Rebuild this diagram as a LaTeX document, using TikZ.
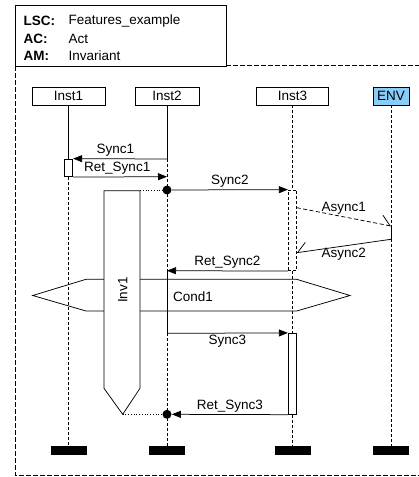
\documentclass[tikz,border=0pt]{standalone}
\usepackage{fontspec}
\setmainfont{Liberation Sans}
\usetikzlibrary{positioning, calc, arrows.meta, shapes.geometric, shapes.misc}
\definecolor{envblue}{HTML}{88CCF8}

\begin{document}
\begin{tikzpicture}[
        x=1pt, y=-1pt,
        line width=0.75pt,
        font=\fontsize{13.5}{16}\selectfont,
        inst/.style={rectangle, draw, fill=white, minimum height=18pt, inner sep=0pt},
        endbar/.style={rectangle, fill=black, minimum width=36pt, minimum height=9pt, inner sep=0pt},
        actbox/.style={rectangle, draw, fill=white, minimum width=8.5pt, inner sep=0pt},
        life/.style={dash pattern=on 3pt off 2pt},
        frame/.style={dash pattern=on 4.5pt off 2.5pt},
        msg/.style={-{Triangle[length=9pt, width=7pt]}},
        amsg/.style={-{Straight Barb[length=9pt, width=18pt, #1]}},
        dot/.style={circle, fill=black, inner sep=0pt, minimum size=9pt},
        lbl/.style={inner sep=2pt},
        hdr/.style={anchor=west, inner sep=0pt}
    ]
        \useasboundingbox (0,0) rectangle (419,477);

        % Frame and header
        \draw (15,66) rectangle (226,5);
        \draw [frame] (226,65.5) -- (419,65.5);
        \draw [frame] (15,66) -- (15,475) -- (419,475);
        \node [hdr] (lsc) at (23.3,21) {\textbf{LSC:}};
        \node [hdr] (lscname) at (68.3,21) {Features\_example};
        \node [hdr] (ac) at (23.3,38.5) {\textbf{AC:}};
        \node [hdr] (acname) at (68.3,38.5) {Act};
        \node [hdr] (am) at (23.3,55.5) {\textbf{AM:}};
        \node [hdr] (amname) at (68.3,55.5) {Invariant};

        % Nodes
        \node [inst, minimum width=73pt] (inst1) at (68.5,96) {Inst1};
        \node [inst, minimum width=64pt] (inst2) at (167,96) {Inst2};
        \node [inst, minimum width=72pt] (inst3) at (292.5,96) {Inst3};
        \node [inst, minimum width=36pt, fill=envblue] (env) at (391,96) {ENV};

        \node [endbar] (end1) at (68.5,450.5) {};
        \node [endbar] (end2) at (167,450.5) {};
        \node [endbar] (end3) at (292.5,450.5) {};
        \node [endbar] (end4) at (391,450.5) {};

        \node [actbox, minimum height=17.7pt] (act1) at (68.5,167.85) {};
        \node [actbox, minimum height=80.7pt, life] (act3a) at (292.5,230.35) {};
        \node [actbox, minimum height=81pt] (act3b) at (292.5,373.8) {};

        \coordinate (s1) at (167,159);
        \coordinate (r1) at (167,176.7);
        \coordinate (r2) at (167,270.7);
        \coordinate (s3) at (167,333.3);
        \coordinate (e1) at (391,226);
        \coordinate (e2) at (391,239.3);
        \coordinate (a1) at (296.7,207.7);
        \coordinate (a2) at (296.7,252.7);

        % Lifelines
        \draw (inst1) -- (act1);
        \draw [life] (act1) -- (end1);
        \draw (inst2) -- (s1);
        \draw [life] (s1) -- (r2);
        \draw (r2) -- (s3);
        \draw [life] (s3) -- (end2);
        \draw [life] (inst3) -- (act3a);
        \draw [life] (act3a) -- (act3b);
        \draw [life] (act3b) -- (end3);
        \draw [life] (env) -- (e1);
        \draw (e1) -- (e2);
        \draw [life] (e2) -- (end4);

        % Condition and invariant
        \draw (32.7,295.5) -- (86,279.3) -- (296.7,279.3) -- (350,295.5)
              -- (296.7,311) -- (86,311) -- cycle;
        \node (cond1) at (193,296.7) {Cond1};
        \draw [fill=white] (104,190.7) -- (140,190.7) -- (140,388.3)
              -- (122.7,414.3) -- (104,388.3) -- cycle;
        \node [rotate=90] (inv1) at (122.7,290) {Inv1};
        \coordinate (invtop) at (140,190);
        \coordinate (invtip) at (122.7,414.3);

        \node [dot] (dot2) at (167,190) {};
        \node [dot] (dot3) at (167,414.3) {};

        % Edges
        \draw [msg] (s1) -- node[lbl, above, pos=0.55] {Sync1} (act1.north east);
        \draw [msg] (act1.south east) -- node[lbl, above, pos=0.47] {Ret\_Sync1} (r1);
        \draw [dotted] (invtop) -- (dot2);
        \draw [msg] (dot2) -- node[lbl, above] {Sync2} (act3a.north west);
        \draw [amsg=left, dash pattern=on 4pt off 2.5pt] (a1) -- node[lbl, above] {Async1} (e1);
        \draw [amsg=right] (e2) -- node[lbl, below] {Async2} (a2);
        \draw [msg] (act3a.south west) -- node[lbl, above] {Ret\_Sync2} (r2);
        \draw [msg] (s3) -- node[lbl, below] {Sync3} (act3b.north west);
        \draw [msg] (act3b.south west) -- node[lbl, above] {Ret\_Sync3} (dot3);
        \draw [dotted] (invtip) -- (dot3);

    \end{tikzpicture}
\end{document}
